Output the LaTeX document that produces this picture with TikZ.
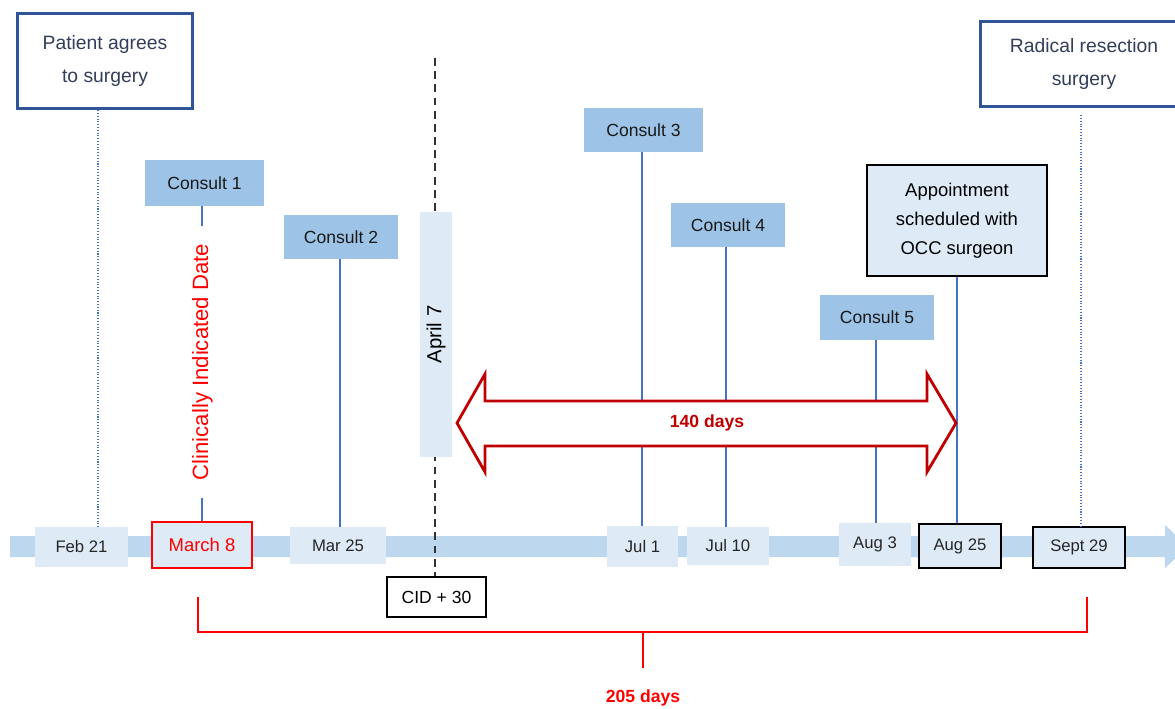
\documentclass[tikz,border=0pt]{standalone}
\usepackage{fontspec}
\setmainfont{Liberation Sans}
\definecolor{bandblue}{RGB}{189,215,238}
\definecolor{paleblue}{RGB}{222,235,247}
\definecolor{midblue}{RGB}{157,195,230}
\definecolor{frameblue}{RGB}{47,85,151}
\definecolor{slatetext}{RGB}{50,62,90}
\definecolor{lineblue}{RGB}{68,114,196}
\definecolor{darkred}{RGB}{192,0,0}
\begin{document}
\begin{tikzpicture}[x=0.02cm, y=-0.02cm, nodes={inner sep=0pt, align=center},
    datebox/.style={rectangle, fill=paleblue, text=black!85, font=\fontsize{9.5}{11}\selectfont},
    consult/.style={rectangle, fill=midblue, text=black!90, minimum height=0.88cm, minimum width=2.28cm, font=\fontsize{10}{12}\selectfont},
    bigbox/.style={rectangle, draw=frameblue, line width=1.8pt, fill=white, text=slatetext, font=\fontsize{11}{19}\selectfont},
    vline/.style={lineblue, line width=0.6pt},
    dotline/.style={lineblue, densely dotted, line width=0.6pt}]
    \useasboundingbox (0,0) rectangle (1175,708);
    % time line
    \fill[bandblue] (10,536) -- (1165,536) -- (1165,525) -- (1188,546.5) -- (1165,568) -- (1165,557) -- (10,557) -- cycle;
    \node[datebox, minimum width=1.86cm, minimum height=0.80cm] (feb21) at (81.5,547) {Feb 21};
    \node[datebox, draw=red, line width=1.1pt, text=red, minimum width=2.0cm, minimum height=0.92cm, font=\fontsize{10.5}{12}\selectfont] (march8) at (202,545) {March 8};
    \node[datebox, minimum width=1.92cm, minimum height=0.74cm] (mar25) at (338,545.5) {Mar 25};
    \node[datebox, minimum width=1.42cm, minimum height=0.82cm] (jul1) at (642.5,546.5) {Jul 1};
    \node[datebox, minimum width=1.64cm, minimum height=0.76cm] (jul10) at (728,546) {Jul 10};
    \node[datebox, minimum width=1.44cm, minimum height=0.86cm] (aug3) at (875,544.5) {Aug 3};
    \node[datebox, draw=black, line width=0.9pt, minimum width=1.64cm, minimum height=0.88cm] (aug25) at (960,546) {Aug 25};
    \node[datebox, draw=black, line width=0.9pt, minimum width=1.84cm, minimum height=0.82cm] (sept29) at (1079,547.5) {Sept 29};
    \node[rectangle, draw=black, line width=0.8pt, fill=white, minimum width=1.98cm, minimum height=0.80cm, font=\fontsize{10}{12}\selectfont] (cid) at (436.5,597) {CID + 30};
    % surgery boxes
    \node[bigbox, minimum width=3.5cm, minimum height=1.9cm] (patient) at (105,61) {Patient agrees\\to surgery};
    \node[bigbox, minimum width=4.14cm, minimum height=1.7cm] (radical) at (1084,64) {Radical resection\\surgery};
    \coordinate (patline) at (98,0);
    \coordinate (radline) at (1081,0);
    \draw[dotline] (patient.south -| patline) -- (patline |- feb21.north);
    \draw[dotline] (radical.south -| radline) ++(0,7) -- (radline |- sept29.north);
    % CID + 30
    \coordinate (cidtop) at (435,58);
    \draw[black!80, line width=0.7pt, dash pattern=on 4.5pt off 3pt] (cidtop) -- (cidtop |- cid.north);
    \node[rectangle, fill=paleblue, rotate=90, minimum width=4.9cm, minimum height=0.64cm, font=\fontsize{11.6}{13}\selectfont] (april7) at (436,334.5) {April 7};
    % consults
    \node[consult, minimum width=2.38cm, minimum height=0.92cm] (c1) at (204.5,183) {Consult 1};
    \node[consult] (c2) at (341,237) {Consult 2};
    \node[consult, minimum width=2.38cm] (c3) at (643.5,130) {Consult 3};
    \node[consult] (c4) at (728,225) {Consult 4};
    \node[consult, minimum height=0.9cm] (c5) at (877,317.5) {Consult 5};
    \node[rectangle, draw=black, line width=1.3pt, fill=paleblue, minimum width=3.6cm, minimum height=2.22cm, font=\fontsize{10.5}{16.5}\selectfont] (appt) at (957,220.5) {Appointment\\scheduled with\\OCC surgeon};
    \draw[vline] (march8.north |- c1.south) -- (march8.north);
    \node[rectangle, fill=white, rotate=90, text=red, minimum width=5.46cm, font=\fontsize{12.6}{14}\selectfont] (cid label) at (202.5,362) {Clinically Indicated Date};
    \draw[vline] (c2.south -| 340,0) -- (340,0 |- mar25.north);
    \draw[vline] (c3.south -| 642,0) -- (642,0 |- jul1.north);
    \draw[vline] (c4.south -| 726,0) -- (726,0 |- jul10.north);
    \draw[vline] (c5.south -| 876,0) -- (876,0 |- aug3.north);
    \draw[vline] (appt.south) -- (appt.south |- aug25.north);
    % waiting span
    \draw[darkred, line width=1.6pt, fill=white] (457,423) -- (485,374) -- (485,401) -- (927,401) -- (927,374) -- (956,423) -- (927,472) -- (927,446) -- (485,446) -- (485,472) -- cycle;
    \node[text=darkred, font=\bfseries\fontsize{10}{12}\selectfont] (span) at (707,423) {140 days};
    % total span
    \coordinate (bl) at (198,597);
    \coordinate (br) at (1087,597);
    \coordinate (bmid) at (643,632);
    \node[text=red, font=\bfseries\fontsize{10}{12}\selectfont] (total) at (643,698) {205 days};
    \draw[red, line width=0.7pt] (bl) |- (bmid) -| (br);
    \draw[red, line width=0.7pt] (bmid) -- (bmid |- 0,668);
\end{tikzpicture}
\end{document}
